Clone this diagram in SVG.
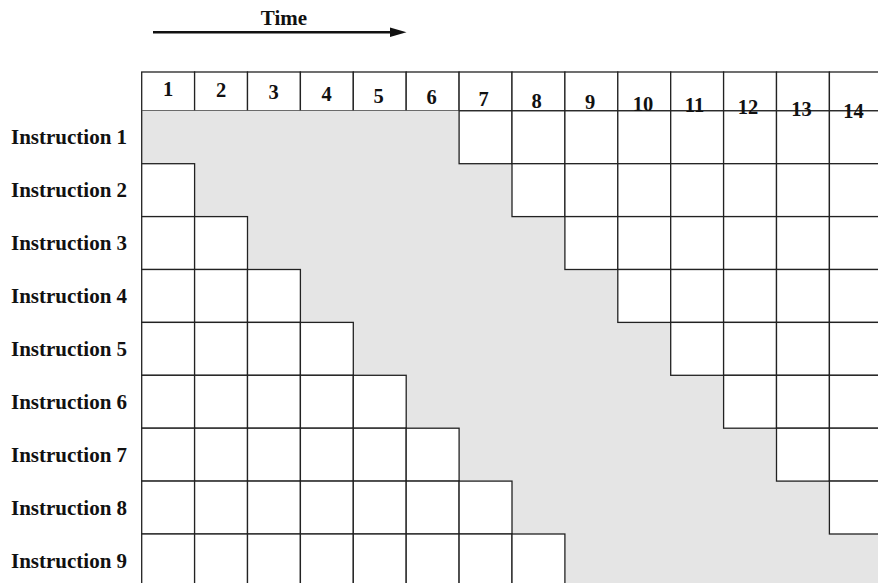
<svg xmlns="http://www.w3.org/2000/svg" width="878" height="583" viewBox="0 0 878 583">
<defs>
<style>
.lbl{font-family:"Liberation Serif","Times New Roman",serif;font-weight:bold;font-size:21px;fill:#111}
.num{font-family:"Liberation Serif","Times New Roman",serif;font-weight:bold;font-size:20.5px;fill:#111;text-anchor:middle}
.cell{fill:#fff;stroke:#222;stroke-width:1.3}
.hdr{fill:#fff;stroke:#222;stroke-width:1.3}
.band{fill:#e5e5e5;stroke:none}
</style>
</defs>
<rect width="878" height="583" fill="#fff"/>

<g id="time-axis">
<text class="num" x="284" y="24.5" style="font-size:21px">Time</text>
<line x1="153" y1="32.3" x2="394" y2="32.3" stroke="#111" stroke-width="2.6"/>
<path d="M390,27.6 L406.5,32.3 L390,37 z" fill="#111"/>
</g>

<g id="header">
<rect class="hdr" x="141.7" y="72" width="52.9" height="38.8"/>
<rect class="hdr" x="194.6" y="72" width="52.9" height="38.8"/>
<rect class="hdr" x="247.5" y="72" width="52.9" height="38.8"/>
<rect class="hdr" x="300.4" y="72" width="52.9" height="38.8"/>
<rect class="hdr" x="353.3" y="72" width="52.9" height="38.8"/>
<rect class="hdr" x="406.2" y="72" width="52.9" height="38.8"/>
<rect class="hdr" x="459.1" y="72" width="52.9" height="38.8"/>
<rect class="hdr" x="512" y="72" width="52.9" height="38.8"/>
<rect class="hdr" x="564.9" y="72" width="52.9" height="38.8"/>
<rect class="hdr" x="617.8" y="72" width="52.9" height="38.8"/>
<rect class="hdr" x="670.7" y="72" width="52.9" height="38.8"/>
<rect class="hdr" x="723.6" y="72" width="52.9" height="38.8"/>
<rect class="hdr" x="776.5" y="72" width="52.9" height="38.8"/>
<rect class="hdr" x="829.4" y="72" width="52.9" height="38.8"/>
</g>

<g id="band">
<path class="band" d="M141.7,110.8 H459.1 V163.7 H512 V216.6 H564.9 V269.5 H617.8 V322.4 H670.7 V375.3 H723.6 V428.2 H776.5 V481.1 H829.4 V534 H882.3 V586.9 H564.9 V534 H512 V481.1 H459.1 V428.2 H406.2 V375.3 H353.3 V322.4 H300.4 V269.5 H247.5 V216.6 H194.6 V163.7 H141.7 Z"/>
<line x1="141.7" y1="110.8" x2="141.7" y2="163.7" stroke="#222" stroke-width="1.3"/>
</g>

<g id="row1">
<text class="lbl" x="11" y="144.3">Instruction 1</text>
<rect class="cell" x="459.1" y="110.8" width="52.9" height="52.9"/>
<rect class="cell" x="512" y="110.8" width="52.9" height="52.9"/>
<rect class="cell" x="564.9" y="110.8" width="52.9" height="52.9"/>
<rect class="cell" x="617.8" y="110.8" width="52.9" height="52.9"/>
<rect class="cell" x="670.7" y="110.8" width="52.9" height="52.9"/>
<rect class="cell" x="723.6" y="110.8" width="52.9" height="52.9"/>
<rect class="cell" x="776.5" y="110.8" width="52.9" height="52.9"/>
<rect class="cell" x="829.4" y="110.8" width="52.9" height="52.9"/>
</g>

<g id="row2">
<text class="lbl" x="11" y="197.2">Instruction 2</text>
<rect class="cell" x="141.7" y="163.7" width="52.9" height="52.9"/>
<rect class="cell" x="512" y="163.7" width="52.9" height="52.9"/>
<rect class="cell" x="564.9" y="163.7" width="52.9" height="52.9"/>
<rect class="cell" x="617.8" y="163.7" width="52.9" height="52.9"/>
<rect class="cell" x="670.7" y="163.7" width="52.9" height="52.9"/>
<rect class="cell" x="723.6" y="163.7" width="52.9" height="52.9"/>
<rect class="cell" x="776.5" y="163.7" width="52.9" height="52.9"/>
<rect class="cell" x="829.4" y="163.7" width="52.9" height="52.9"/>
</g>

<g id="row3">
<text class="lbl" x="11" y="250.1">Instruction 3</text>
<rect class="cell" x="141.7" y="216.6" width="52.9" height="52.9"/>
<rect class="cell" x="194.6" y="216.6" width="52.9" height="52.9"/>
<rect class="cell" x="564.9" y="216.6" width="52.9" height="52.9"/>
<rect class="cell" x="617.8" y="216.6" width="52.9" height="52.9"/>
<rect class="cell" x="670.7" y="216.6" width="52.9" height="52.9"/>
<rect class="cell" x="723.6" y="216.6" width="52.9" height="52.9"/>
<rect class="cell" x="776.5" y="216.6" width="52.9" height="52.9"/>
<rect class="cell" x="829.4" y="216.6" width="52.9" height="52.9"/>
</g>

<g id="row4">
<text class="lbl" x="11" y="303">Instruction 4</text>
<rect class="cell" x="141.7" y="269.5" width="52.9" height="52.9"/>
<rect class="cell" x="194.6" y="269.5" width="52.9" height="52.9"/>
<rect class="cell" x="247.5" y="269.5" width="52.9" height="52.9"/>
<rect class="cell" x="617.8" y="269.5" width="52.9" height="52.9"/>
<rect class="cell" x="670.7" y="269.5" width="52.9" height="52.9"/>
<rect class="cell" x="723.6" y="269.5" width="52.9" height="52.9"/>
<rect class="cell" x="776.5" y="269.5" width="52.9" height="52.9"/>
<rect class="cell" x="829.4" y="269.5" width="52.9" height="52.9"/>
</g>

<g id="row5">
<text class="lbl" x="11" y="355.9">Instruction 5</text>
<rect class="cell" x="141.7" y="322.4" width="52.9" height="52.9"/>
<rect class="cell" x="194.6" y="322.4" width="52.9" height="52.9"/>
<rect class="cell" x="247.5" y="322.4" width="52.9" height="52.9"/>
<rect class="cell" x="300.4" y="322.4" width="52.9" height="52.9"/>
<rect class="cell" x="670.7" y="322.4" width="52.9" height="52.9"/>
<rect class="cell" x="723.6" y="322.4" width="52.9" height="52.9"/>
<rect class="cell" x="776.5" y="322.4" width="52.9" height="52.9"/>
<rect class="cell" x="829.4" y="322.4" width="52.9" height="52.9"/>
</g>

<g id="row6">
<text class="lbl" x="11" y="408.8">Instruction 6</text>
<rect class="cell" x="141.7" y="375.3" width="52.9" height="52.9"/>
<rect class="cell" x="194.6" y="375.3" width="52.9" height="52.9"/>
<rect class="cell" x="247.5" y="375.3" width="52.9" height="52.9"/>
<rect class="cell" x="300.4" y="375.3" width="52.9" height="52.9"/>
<rect class="cell" x="353.3" y="375.3" width="52.9" height="52.9"/>
<rect class="cell" x="723.6" y="375.3" width="52.9" height="52.9"/>
<rect class="cell" x="776.5" y="375.3" width="52.9" height="52.9"/>
<rect class="cell" x="829.4" y="375.3" width="52.9" height="52.9"/>
</g>

<g id="row7">
<text class="lbl" x="11" y="461.7">Instruction 7</text>
<rect class="cell" x="141.7" y="428.2" width="52.9" height="52.9"/>
<rect class="cell" x="194.6" y="428.2" width="52.9" height="52.9"/>
<rect class="cell" x="247.5" y="428.2" width="52.9" height="52.9"/>
<rect class="cell" x="300.4" y="428.2" width="52.9" height="52.9"/>
<rect class="cell" x="353.3" y="428.2" width="52.9" height="52.9"/>
<rect class="cell" x="406.2" y="428.2" width="52.9" height="52.9"/>
<rect class="cell" x="776.5" y="428.2" width="52.9" height="52.9"/>
<rect class="cell" x="829.4" y="428.2" width="52.9" height="52.9"/>
</g>

<g id="row8">
<text class="lbl" x="11" y="514.6">Instruction 8</text>
<rect class="cell" x="141.7" y="481.1" width="52.9" height="52.9"/>
<rect class="cell" x="194.6" y="481.1" width="52.9" height="52.9"/>
<rect class="cell" x="247.5" y="481.1" width="52.9" height="52.9"/>
<rect class="cell" x="300.4" y="481.1" width="52.9" height="52.9"/>
<rect class="cell" x="353.3" y="481.1" width="52.9" height="52.9"/>
<rect class="cell" x="406.2" y="481.1" width="52.9" height="52.9"/>
<rect class="cell" x="459.1" y="481.1" width="52.9" height="52.9"/>
<rect class="cell" x="829.4" y="481.1" width="52.9" height="52.9"/>
</g>

<g id="row9">
<text class="lbl" x="11" y="567.5">Instruction 9</text>
<rect class="cell" x="141.7" y="534" width="52.9" height="52.9"/>
<rect class="cell" x="194.6" y="534" width="52.9" height="52.9"/>
<rect class="cell" x="247.5" y="534" width="52.9" height="52.9"/>
<rect class="cell" x="300.4" y="534" width="52.9" height="52.9"/>
<rect class="cell" x="353.3" y="534" width="52.9" height="52.9"/>
<rect class="cell" x="406.2" y="534" width="52.9" height="52.9"/>
<rect class="cell" x="459.1" y="534" width="52.9" height="52.9"/>
<rect class="cell" x="512" y="534" width="52.9" height="52.9"/>
</g>

<g id="header-labels">
<text class="num" x="168" y="96">1</text>
<text class="num" x="221" y="96.5">2</text>
<text class="num" x="273.5" y="99">3</text>
<text class="num" x="326.5" y="100.5">4</text>
<text class="num" x="378.5" y="102.5">5</text>
<text class="num" x="431.5" y="104">6</text>
<text class="num" x="483.5" y="105.5">7</text>
<text class="num" x="536.5" y="108.3">8</text>
<text class="num" x="590" y="108.5">9</text>
<text class="num" x="643" y="110.5">10</text>
<text class="num" x="694.5" y="112">11</text>
<text class="num" x="748" y="114">12</text>
<text class="num" x="801.5" y="116">13</text>
<text class="num" x="853.5" y="117.8">14</text>
</g>
</svg>
